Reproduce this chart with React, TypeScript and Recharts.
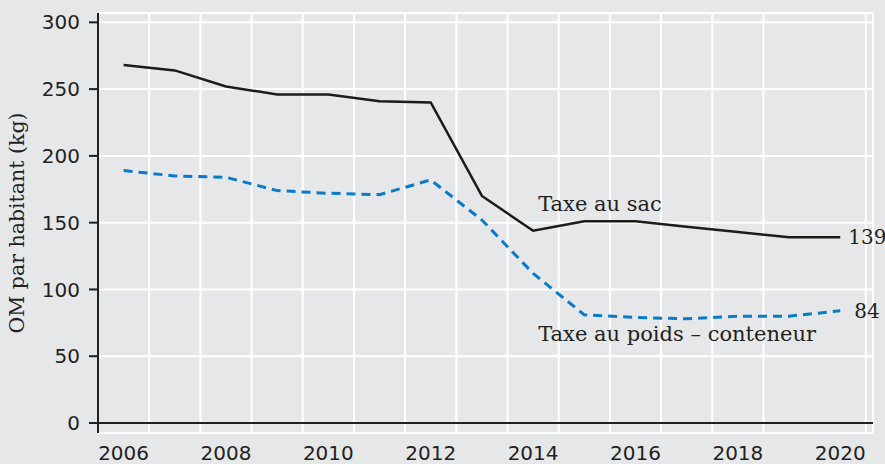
import { LineChart, Line, XAxis, YAxis, CartesianGrid, ReferenceLine, ReferenceDot, LabelList } from 'recharts';

const years = [2006, 2007, 2008, 2009, 2010, 2011, 2012, 2013, 2014, 2015, 2016, 2017, 2018, 2019, 2020];
const taxeSac = [268, 264, 252, 246, 246, 241, 240, 170, 144, 151, 151, 147, 143, 139, 139];
const taxePoids = [189, 185, 184, 174, 172, 171, 182, 152, 112, 81, 79, 78, 80, 80, 84];

const xTicks = [2006, 2008, 2010, 2012, 2014, 2016, 2018, 2020];
const yTicks = [0, 50, 100, 150, 200, 250, 300];
const gridTicks = [2005.5, 2006.5, 2007.5, 2008.5, 2009.5, 2010.5, 2011.5, 2012.5, 2013.5, 2014.5, 2015.5, 2016.5, 2017.5, 2018.5, 2019.5, 2020.5];

const data = years.map((year, i) => ({ year, sac: taxeSac[i], poids: taxePoids[i] }));

const ink = '#231f20';
const blue = '#0a7bc6';
const sans = 'DejaVu Sans';
const serif = '"DejaVu Serif", "Liberation Serif", serif';

const EndLabel = ({ x, y, index, value, dx }: any) => {
  if (index !== years.length - 1) return null;
  return (
    <text x={x + dx} y={y} dy="0.35em" fill={ink} fontSize={20} style={{ fontFamily: serif }}>
      {value}
    </text>
  );
};

const App = () => {
  return (
    <div style={{ position: 'absolute', left: 0, top: 0, width: 885, height: 464, background: '#e6e7e9' }}>
      <LineChart width={885} height={464} data={data} margin={{ top: 13, right: 12, left: 0, bottom: 0 }}>
        <CartesianGrid xAxisId="grid" stroke="#ffffff" strokeWidth={2} />
        <XAxis
          dataKey="year"
          type="number"
          domain={[2005.5, 2020.64]}
          ticks={xTicks}
          axisLine={false}
          tickLine={false}
          tickMargin={7}
          height={31}
          tick={{ fill: ink, fontSize: 20, style: { fontFamily: sans } }}
        />
        <XAxis xAxisId="grid" dataKey="year" type="number" domain={[2005.5, 2020.64]} ticks={gridTicks} hide />
        <YAxis
          type="number"
          domain={[-7.5, 307]}
          ticks={yTicks}
          width={98}
          axisLine={{ stroke: ink, strokeWidth: 2 }}
          tickLine={{ stroke: ink, strokeWidth: 2 }}
          tickSize={9}
          tickMargin={9}
          tick={{ fill: ink, fontSize: 20, style: { fontFamily: sans } }}
          label={{ value: 'OM par habitant (kg)', angle: -90, position: 'insideLeft', offset: 17, fill: ink, fontSize: 20.5, style: { textAnchor: 'middle', fontFamily: serif } }}
        />
        <ReferenceLine y={0} stroke={ink} strokeWidth={2} />
        <Line dataKey="sac" stroke="#1c1a1b" strokeWidth={2.5} dot={false} isAnimationActive={false}>
          <LabelList dataKey="sac" content={(p: any) => <EndLabel {...p} dx={8} />} />
        </Line>
        <Line dataKey="poids" stroke={blue} strokeWidth={3} strokeDasharray="9 6" dot={false} isAnimationActive={false}>
          <LabelList dataKey="poids" content={(p: any) => <EndLabel {...p} dx={14} />} />
        </Line>
        <ReferenceDot x={2014.1} y={164} r={0} label={{ value: 'Taxe au sac', position: 'right', offset: 0, fill: ink, fontSize: 21, style: { fontFamily: serif } }} />
        <ReferenceDot x={2014.1} y={67} r={0} label={{ value: 'Taxe au poids – conteneur', position: 'right', offset: 0, fill: ink, fontSize: 21, style: { fontFamily: serif } }} />
      </LineChart>
    </div>
  );
};

export default App;
